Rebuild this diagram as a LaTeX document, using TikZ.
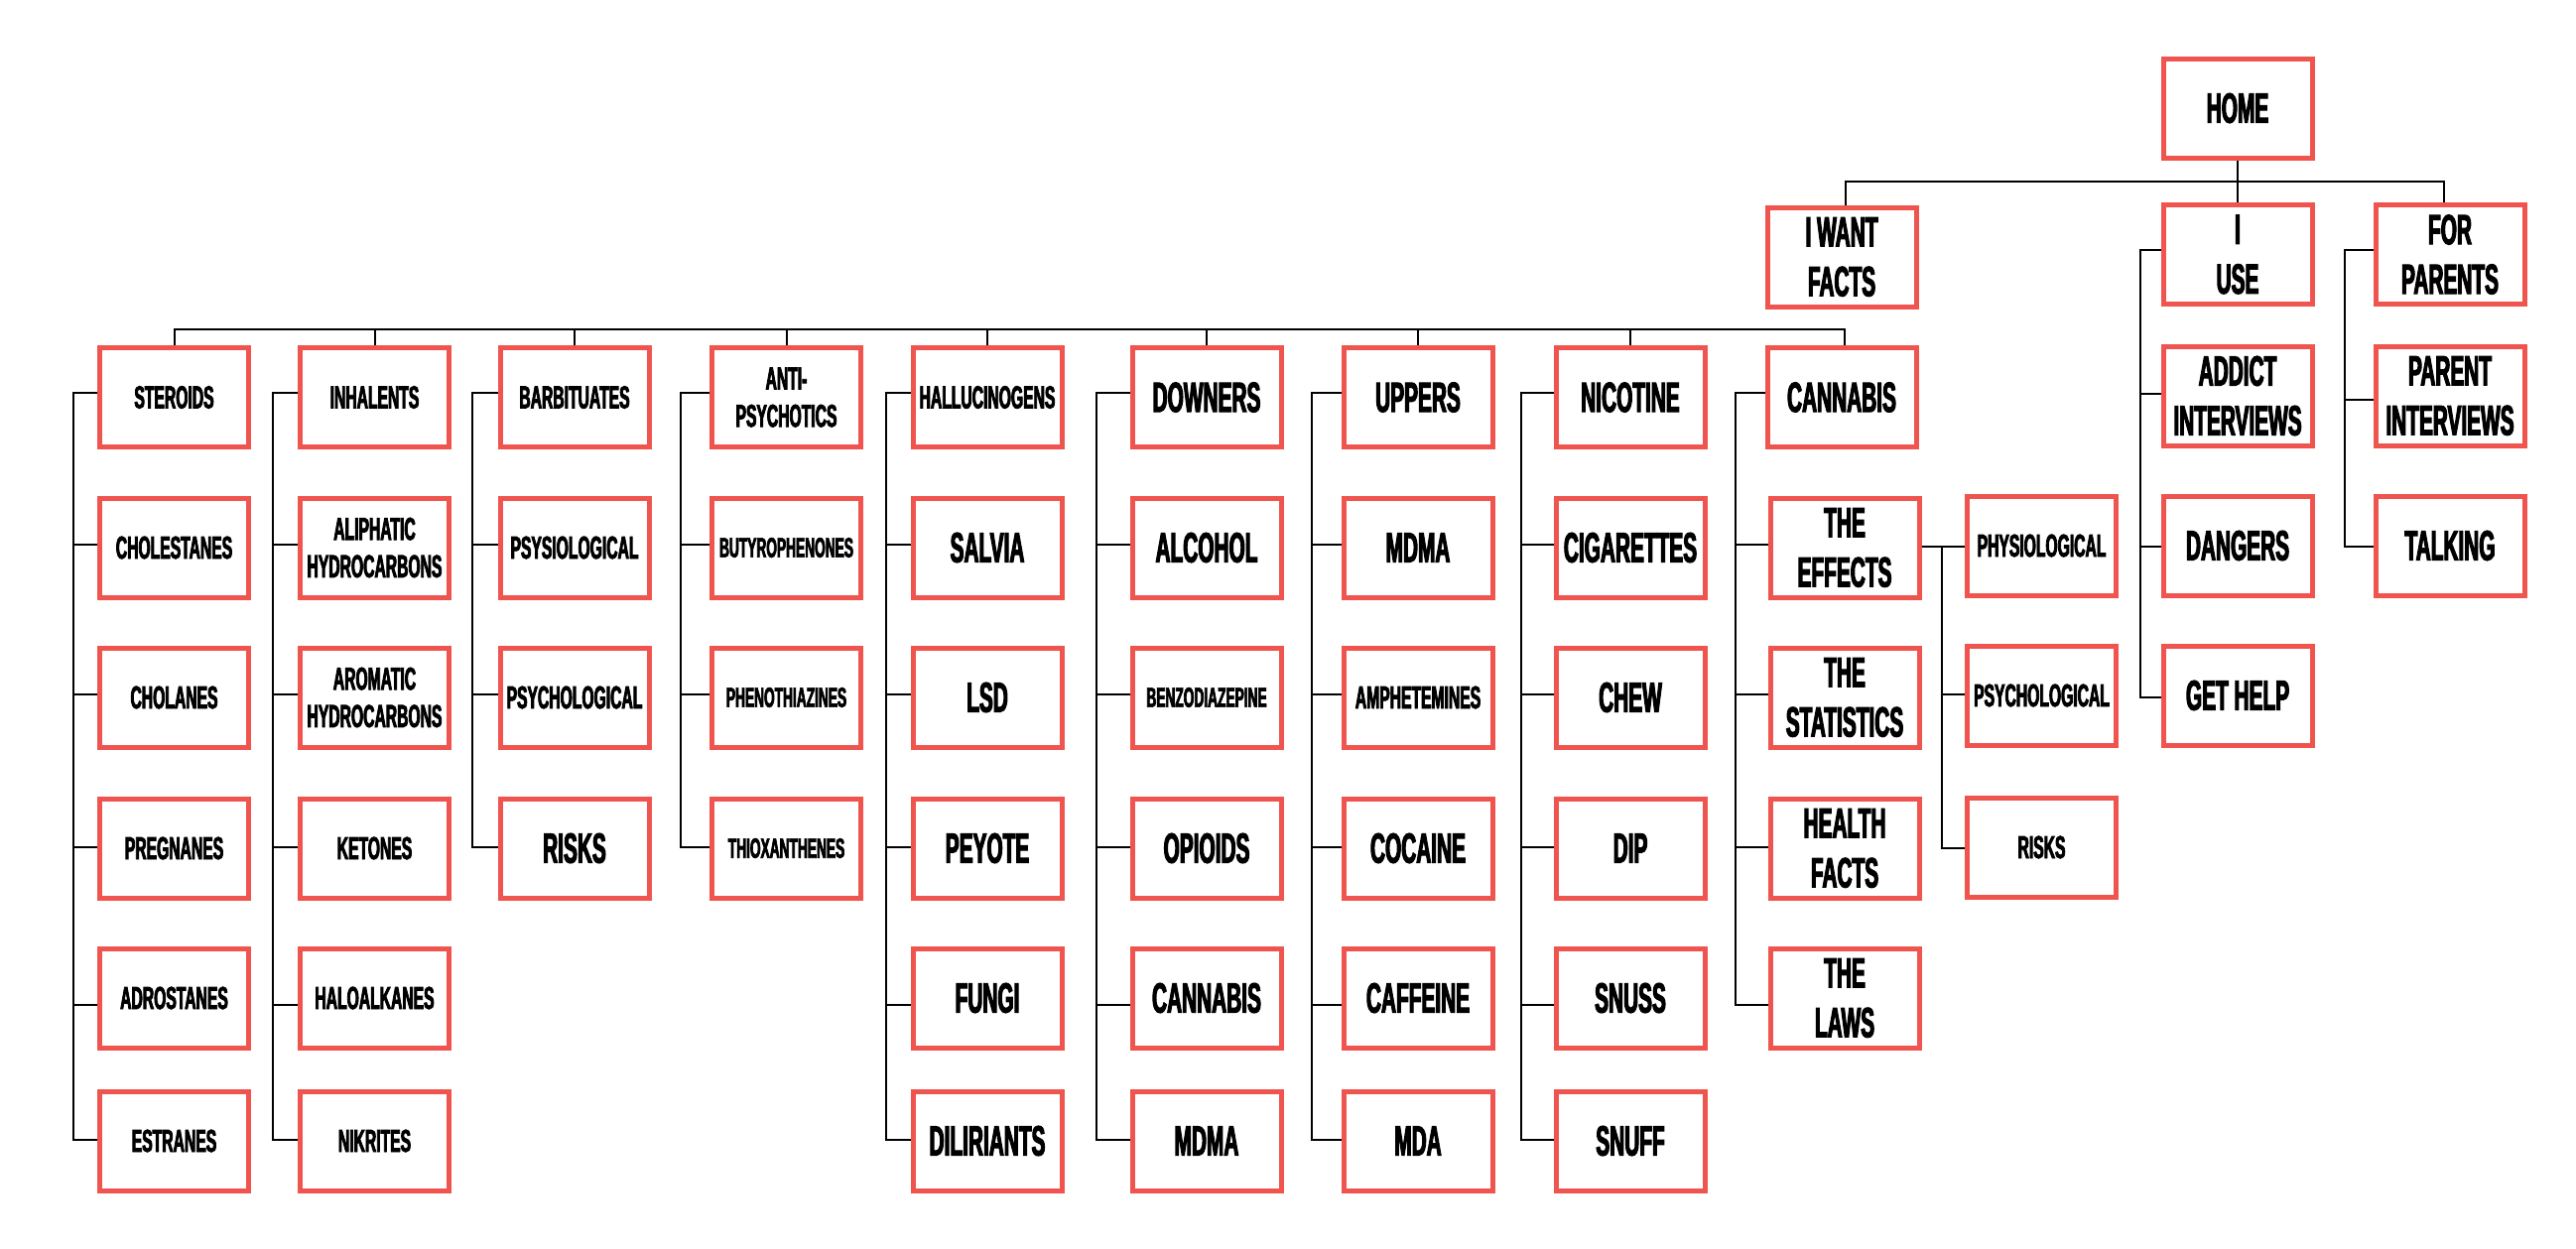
\documentclass[tikz,border=0pt]{standalone}
\usepackage{fontspec}
\newfontfamily\condfont{Liberation Sans}[UprightFont={* Bold},FakeStretch=0.49,FakeBold=2.5]
\definecolor{boxred}{RGB}{240,84,78}
\newcommand\szL{\fontsize{42.5}{50}\selectfont}
\newcommand\szM{\fontsize{32}{37.7}\selectfont}
\newcommand\szS{\fontsize{28}{33}\selectfont}
\begin{document}
\begin{tikzpicture}[x=1pt,y=-1pt,
  box/.style={draw=boxred, line width=5pt, minimum width=150pt, minimum height=100pt,
    inner sep=0pt, align=center, text=black, font=\condfont\szL},
  bigtxt/.style={font=\condfont\szL},
  midtxt/.style={font=\condfont\szM},
  smalltxt/.style={font=\condfont\szS},
  conn/.style={draw=black, line width=2pt}]
\useasboundingbox (0,0) rectangle (2596,1258);

% ---- top levels
\node[box] (home) at (2255,109) {HOME};
\node[box] (iwant) at (1856,259) {I WANT\\FACTS};
\node[box] (iuse) at (2255,256.5) {I\\USE};
\node[box] (parents) at (2469,256.5) {FOR\\PARENTS};

% ---- column 1
\node[box,midtxt] (steroids) at (175.5,400.5) {STEROIDS};
\node[box,midtxt] (cholestanes) at (175.5,552) {CHOLESTANES};
\node[box,midtxt] (cholanes) at (175.5,703) {CHOLANES};
\node[box,midtxt] (pregnanes) at (175.5,855) {PREGNANES};
\node[box,midtxt] (adrostanes) at (175.5,1006) {ADROSTANES};
\node[box,midtxt] (estranes) at (175.5,1150) {ESTRANES};
% ---- column 2
\node[box,midtxt] (inhal) at (377.5,400.5) {INHALENTS};
\node[box,midtxt] (aliph) at (377.5,552) {ALIPHATIC\\HYDROCARBONS};
\node[box,midtxt] (arom) at (377.5,703) {AROMATIC\\HYDROCARBONS};
\node[box,midtxt] (ketones) at (377.5,855) {KETONES};
\node[box,midtxt] (halo) at (377.5,1006) {HALOALKANES};
\node[box,midtxt] (nikrites) at (377.5,1150) {NIKRITES};
% ---- column 3
\node[box,midtxt] (barb) at (579,400.5) {BARBITUATES};
\node[box,midtxt] (psysio) at (579,552) {PSYSIOLOGICAL};
\node[box,midtxt] (psycho) at (579,703) {PSYCHOLOGICAL};
\node[box,bigtxt] (risks) at (579,855) {RISKS};
% ---- column 4
\node[box,midtxt] (anti) at (792.5,400.5) {ANTI-\\PSYCHOTICS};
\node[box,smalltxt] (butyro) at (792.5,552) {BUTYROPHENONES};
\node[box,smalltxt] (pheno) at (792.5,703) {PHENOTHIAZINES};
\node[box,smalltxt] (thiox) at (792.5,855) {THIOXANTHENES};
% ---- column 5
\node[box,midtxt] (hallu) at (995,400.5) {HALLUCINOGENS};
\node[box] (salvia) at (995,552) {SALVIA};
\node[box] (lsd) at (995,703) {LSD};
\node[box] (peyote) at (995,855) {PEYOTE};
\node[box] (fungi) at (995,1006) {FUNGI};
\node[box] (dilir) at (995,1150) {DILIRIANTS};
% ---- column 6
\node[box] (downers) at (1216,400.5) {DOWNERS};
\node[box] (alcohol) at (1216,552) {ALCOHOL};
\node[box,smalltxt] (benzo) at (1216,703) {BENZODIAZEPINE};
\node[box] (opioids) at (1216,855) {OPIOIDS};
\node[box] (cannabisd) at (1216,1006) {CANNABIS};
\node[box] (mdmad) at (1216,1150) {MDMA};
% ---- column 7
\node[box] (uppers) at (1429,400.5) {UPPERS};
\node[box] (mdmau) at (1429,552) {MDMA};
\node[box,midtxt] (amph) at (1429,703) {AMPHETEMINES};
\node[box] (cocaine) at (1429,855) {COCAINE};
\node[box] (caffeine) at (1429,1006) {CAFFEINE};
\node[box] (mda) at (1429,1150) {MDA};
% ---- column 8
\node[box] (nicotine) at (1643,400.5) {NICOTINE};
\node[box] (cigs) at (1643,552) {CIGARETTES};
\node[box] (chew) at (1643,703) {CHEW};
\node[box] (dip) at (1643,855) {DIP};
\node[box] (snuss) at (1643,1006) {SNUSS};
\node[box] (snuff) at (1643,1150) {SNUFF};
% ---- column 9
\node[box] (cannabis) at (1856,400.5) {CANNABIS};
\node[box] (effects) at (1859,552) {THE\\EFFECTS};
\node[box] (stats) at (1859,703) {THE\\STATISTICS};
\node[box] (health) at (1859,855) {HEALTH\\FACTS};
\node[box] (laws) at (1859,1006) {THE\\LAWS};
% ---- column 10
\node[box,midtxt] (physio) at (2057.5,550) {PHYSIOLOGICAL};
\node[box,midtxt] (psycho2) at (2057.5,701) {PSYCHOLOGICAL};
\node[box,midtxt] (risks2) at (2057.5,854) {RISKS};
% ---- column 11
\node[box] (addict) at (2255,399) {ADDICT\\INTERVIEWS};
\node[box] (dangers) at (2255,550) {DANGERS};
\node[box] (gethelp) at (2255,701) {GET HELP};
% ---- column 12
\node[box] (parint) at (2469,399) {PARENT\\INTERVIEWS};
\node[box] (talking) at (2469,550) {TALKING};

% ---- helper coordinates
\coordinate (hb) at (0,183);
\coordinate (bus2) at (0,332);
\coordinate (t1) at (0,396);
\coordinate (t2) at (0,549);
\coordinate (t3) at (0,700);
\coordinate (t4) at (0,854);
\coordinate (t5) at (0,1013);
\coordinate (t6) at (0,1149);
\coordinate (b1) at (74,0);
\coordinate (b2) at (275.3,0);
\coordinate (b3) at (476.3,0);
\coordinate (b4) at (686,0);
\coordinate (b5) at (893.3,0);
\coordinate (b6) at (1105.3,0);
\coordinate (b7) at (1322,0);
\coordinate (b8) at (1533.3,0);
\coordinate (b9) at (1749.3,0);
\coordinate (b10) at (1957.3,0);
\coordinate (b11) at (2157,0);
\coordinate (b12) at (2363,0);
\coordinate (iwdrop) at ([xshift=4pt]iwant.north);
\coordinate (pdrop) at ([xshift=-6pt]parents.north);
\coordinate (cdrop) at ([xshift=3pt]cannabis.north);

% ---- top connectors
\draw[conn] (home) -- (iuse);
\draw[conn] (iwdrop) -- (iwdrop |- hb) -- (pdrop |- hb) -- (pdrop);

% ---- second bus
\draw[conn] (steroids.north) -- (steroids.north |- bus2) -- (cdrop |- bus2) -- (cdrop);
\foreach \n in {inhal,barb,anti,hallu,downers,uppers,nicotine}
  \draw[conn] (\n.north) -- (\n.north |- bus2);

% ---- column brackets
\draw[conn] (steroids.west |- t1) -| (b1 |- t6) -- (estranes.west |- t6);
\draw[conn] (b1 |- t2) -- (cholestanes.west |- t2);
\draw[conn] (b1 |- t3) -- (cholanes.west |- t3);
\draw[conn] (b1 |- t4) -- (pregnanes.west |- t4);
\draw[conn] (b1 |- t5) -- (adrostanes.west |- t5);

\draw[conn] (inhal.west |- t1) -| (b2 |- t6) -- (nikrites.west |- t6);
\draw[conn] (b2 |- t2) -- (aliph.west |- t2);
\draw[conn] (b2 |- t3) -- (arom.west |- t3);
\draw[conn] (b2 |- t4) -- (ketones.west |- t4);
\draw[conn] (b2 |- t5) -- (halo.west |- t5);

\draw[conn] (barb.west |- t1) -| (b3 |- t4) -- (risks.west |- t4);
\draw[conn] (b3 |- t2) -- (psysio.west |- t2);
\draw[conn] (b3 |- t3) -- (psycho.west |- t3);

\draw[conn] (anti.west |- t1) -| (b4 |- t4) -- (thiox.west |- t4);
\draw[conn] (b4 |- t2) -- (butyro.west |- t2);
\draw[conn] (b4 |- t3) -- (pheno.west |- t3);

\draw[conn] (hallu.west |- t1) -| (b5 |- t6) -- (dilir.west |- t6);
\draw[conn] (b5 |- t2) -- (salvia.west |- t2);
\draw[conn] (b5 |- t3) -- (lsd.west |- t3);
\draw[conn] (b5 |- t4) -- (peyote.west |- t4);
\draw[conn] (b5 |- t5) -- (fungi.west |- t5);

\draw[conn] (downers.west |- t1) -| (b6 |- t6) -- (mdmad.west |- t6);
\draw[conn] (b6 |- t2) -- (alcohol.west |- t2);
\draw[conn] (b6 |- t3) -- (benzo.west |- t3);
\draw[conn] (b6 |- t4) -- (opioids.west |- t4);
\draw[conn] (b6 |- t5) -- (cannabisd.west |- t5);

\draw[conn] (uppers.west |- t1) -| (b7 |- t6) -- (mda.west |- t6);
\draw[conn] (b7 |- t2) -- (mdmau.west |- t2);
\draw[conn] (b7 |- t3) -- (amph.west |- t3);
\draw[conn] (b7 |- t4) -- (cocaine.west |- t4);
\draw[conn] (b7 |- t5) -- (caffeine.west |- t5);

\draw[conn] (nicotine.west |- t1) -| (b8 |- t6) -- (snuff.west |- t6);
\draw[conn] (b8 |- t2) -- (cigs.west |- t2);
\draw[conn] (b8 |- t3) -- (chew.west |- t3);
\draw[conn] (b8 |- t4) -- (dip.west |- t4);
\draw[conn] (b8 |- t5) -- (snuss.west |- t5);

\draw[conn] (cannabis.west |- t1) -| (b9 |- t5) -- (laws.west |- t5);
\draw[conn] (b9 |- t2) -- (effects.west |- t2);
\draw[conn] (b9 |- t3) -- (stats.west |- t3);
\draw[conn] (b9 |- t4) -- (health.west |- t4);

% ---- effects sub-bracket
\coordinate (u2) at (0,550.7);
\coordinate (u3) at (0,700);
\coordinate (u4) at (0,855);
\draw[conn] (effects.east |- u2) -- (physio.west |- u2);
\draw[conn] (b10 |- u2) -- (b10 |- u4) -- (risks2.west |- u4);
\draw[conn] (b10 |- u3) -- (psycho2.west |- u3);

% ---- I use bracket
\coordinate (v1) at (0,252);
\coordinate (v2) at (0,396.7);
\coordinate (v3) at (0,550.7);
\coordinate (v4) at (0,702.7);
\coordinate (w2) at (0,402.5);
\draw[conn] (iuse.west |- v1) -| (b11 |- v4) -- (gethelp.west |- v4);
\draw[conn] (b11 |- v2) -- (addict.west |- v2);
\draw[conn] (b11 |- v3) -- (dangers.west |- v3);

% ---- for parents bracket
\draw[conn] (parents.west |- v1) -| (b12 |- v3) -- (talking.west |- v3);
\draw[conn] (b12 |- w2) -- (parint.west |- w2);
\end{tikzpicture}
\end{document}
